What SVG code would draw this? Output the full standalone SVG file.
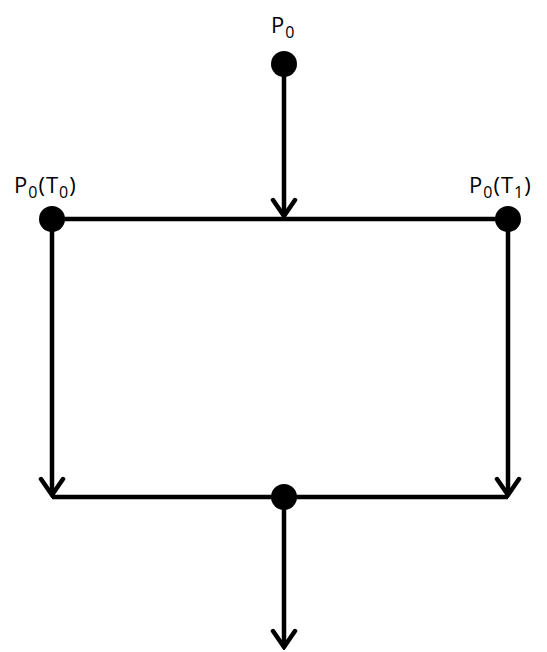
<svg xmlns="http://www.w3.org/2000/svg" width="547" height="652" viewBox="0 0 547 652">
<defs>
<style>
.ln{stroke:#000;stroke-width:4.5;fill:none;stroke-linecap:butt}
.dot{fill:#000}
.lbl{font-family:"Open Sans","Liberation Sans",sans-serif;font-size:22px;fill:#000;letter-spacing:1px}
.sub{font-size:16px}
</style>
<marker id="arr" viewBox="-19 -15 22 30" markerWidth="22" markerHeight="30" refX="0" refY="0" markerUnits="userSpaceOnUse" orient="auto">
<path d="M-16,-11 L0,0 L-16,11" fill="none" stroke="#000" stroke-width="4.5" stroke-linecap="round" stroke-linejoin="miter"/>
</marker>
</defs>
<rect width="547" height="652" fill="#fff"/>
<g id="connectors">
<line class="ln" x1="52" y1="219" x2="508" y2="219"/>
<line class="ln" x1="52" y1="497" x2="508" y2="497"/>
<path class="ln" d="M284,64 V216" marker-end="url(#arr)"/>
<path class="ln" d="M52,219 V495" marker-end="url(#arr)"/>
<path class="ln" d="M508,219 V495" marker-end="url(#arr)"/>
<path class="ln" d="M284,497 V647" marker-end="url(#arr)"/>
</g>
<g id="node-p0">
<circle class="dot" cx="284" cy="64" r="13"/>
<text class="lbl" x="271" y="33">P<tspan class="sub" dy="5">0</tspan></text>
</g>
<g id="node-p0t0">
<circle class="dot" cx="52" cy="219" r="13"/>
<text class="lbl" x="14" y="193">P<tspan class="sub" dy="5">0</tspan><tspan dy="-5">(T</tspan><tspan class="sub" dy="5">0</tspan><tspan dy="-5">)</tspan></text>
</g>
<g id="node-p0t1">
<circle class="dot" cx="508" cy="219" r="13"/>
<text class="lbl" x="469" y="193">P<tspan class="sub" dy="5">0</tspan><tspan dy="-5">(T</tspan><tspan class="sub" dy="5">1</tspan><tspan dy="-5">)</tspan></text>
</g>
<g id="node-merge">
<circle class="dot" cx="284" cy="497" r="13"/>
</g>
</svg>
